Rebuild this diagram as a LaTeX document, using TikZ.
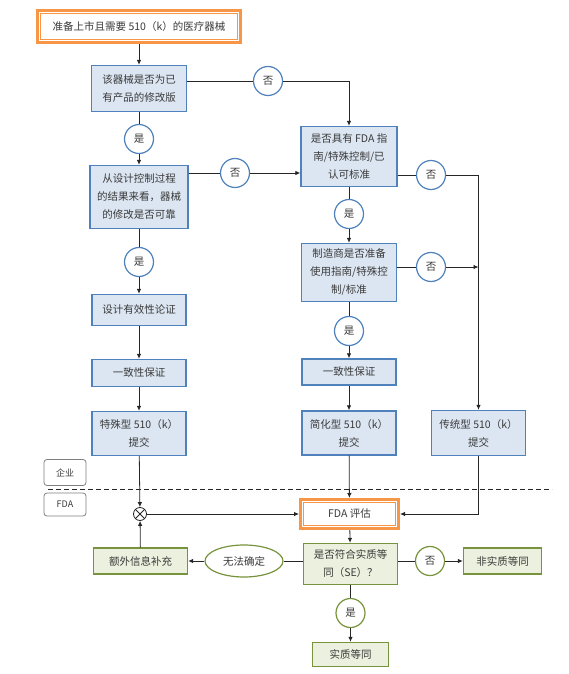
\documentclass[tikz,border=0pt]{standalone}
\usepackage{fontspec}
\setmainfont{Noto Sans CJK SC}
\usetikzlibrary{arrows.meta,shapes.geometric,calc}
\definecolor{bluec}{HTML}{4F81BD}
\definecolor{bluef}{HTML}{DCE6F2}
\definecolor{greenc}{HTML}{77933C}
\definecolor{greenf}{HTML}{EBF1DE}
\definecolor{orangec}{HTML}{F79646}
\definecolor{txt}{HTML}{3A3A3A}
\definecolor{linec}{HTML}{262626}
\definecolor{grayc}{HTML}{7F7F7F}
\begin{document}
\begin{tikzpicture}[x=1pt,y=-1pt,
  every node/.style={font=\fontsize{10.5}{18}\selectfont, text=txt, align=center, inner sep=0pt},
  bbox/.style={draw=bluec, fill=bluef, line width=1.4pt},
  gbox/.style={draw=greenc, fill=greenf, line width=1.4pt},
  obox/.style={draw=orangec, fill=white, line width=3pt},
  bcirc/.style={circle, draw=bluec, line width=1.2pt, fill=white, minimum size=29pt},
  gcirc/.style={circle, draw=greenc, line width=1.2pt, fill=white, minimum size=29pt},
  lbl/.style={draw=grayc, rounded corners=3pt, line width=0.8pt, fill=white, font=\fontsize{9}{11}\selectfont},
  ln/.style={line width=0.8pt, draw=linec},
  arr/.style={ln, -{Latex[length=5pt,width=4.5pt]}}]
\useasboundingbox (0,0) rectangle (568,674);

% top
\node[obox, minimum width=203pt, minimum height=32pt] (top) at (139,26.5) {准备上市且需要 510（k）的医疗器械};
\draw[orangec, line width=0.8pt] ([xshift=4.5pt,yshift=-4.5pt]top.north west) rectangle ([xshift=-4.5pt,yshift=4.5pt]top.south east);

% left column
\node[bbox, minimum width=95pt, minimum height=46pt] (A) at (139,88.5) {该器械是否为已\\有产品的修改版};
\node[bcirc] (y1) at (139,139) {是};
\node[bbox, minimum width=98pt, minimum height=63pt] (C) at (139,197) {从设计控制过程\\的结果来看，器械\\的修改是否可靠};
\node[bcirc] (y4) at (139,262) {是};
\node[bbox, minimum width=94pt, minimum height=31pt] (V) at (139,310) {设计有效性论证};
\node[bbox, minimum width=94pt, minimum height=27pt] (L1) at (139,373) {一致性保证};
\node[bbox, minimum width=94pt, minimum height=44pt] (S1) at (139,433.5) {特殊型 510（k）\\提交};

% middle column
\node[bcirc] (n1) at (268,81) {否};
\node[bbox, minimum width=96pt, minimum height=60pt] (B) at (349,156.5) {是否具有 FDA 指\\南/特殊控制/已\\认可标准};
\node[bcirc] (n2) at (235,173) {否};
\node[bcirc] (y2) at (349,214) {是};
\node[bbox, minimum width=95pt, minimum height=58pt] (D) at (349,272.5) {制造商是否准备\\使用指南/特殊控\\制/标准};
\node[bcirc] (y3) at (349,331) {是};
\node[bbox, minimum width=94pt, minimum height=26pt] (M1) at (349,372) {一致性保证};
\node[bbox, minimum width=94pt, minimum height=44pt] (S2) at (349,433) {简化型 510（k）\\提交};

% right column
\node[bcirc] (n3) at (431,175) {否};
\node[bcirc] (n4) at (431,267) {否};
\node[bbox, minimum width=94pt, minimum height=45pt] (T) at (478.5,433) {传统型 510（k）\\提交};

% labels and separator
\draw[ln, dashed, dash pattern=on 5pt off 3pt] (48,489) -- (552,489);
\node[lbl, minimum width=42pt, minimum height=26pt] (qy) at (65,472.5) {企业};
\node[lbl, minimum width=42pt, minimum height=23pt] (fda) at (65,504.5) {FDA};

% FDA part
\node[circle, draw=linec, line width=0.8pt, fill=white, minimum size=13pt] (X) at (140,514) {};
\draw[ln] (X.north west) -- (X.south east);
\draw[ln] (X.north east) -- (X.south west);
\node[obox, minimum width=98pt, minimum height=29pt] (F) at (349.5,514) {FDA 评估};
\draw[orangec, line width=0.8pt] ([xshift=4.5pt,yshift=-4.5pt]F.north west) rectangle ([xshift=-4.5pt,yshift=4.5pt]F.south east);
\node[gbox, minimum width=94pt, minimum height=41pt] (Q) at (350.5,564) {是否符合实质等\\同（SE）？};
\node[gbox, minimum width=94pt, minimum height=26pt] (E) at (140.5,561) {额外信息补充};
\node[ellipse, draw=greenc, line width=1.2pt, fill=white, minimum width=78pt, minimum height=32pt] (U) at (244,561) {无法确定};
\node[gcirc] (n5) at (430,561) {否};
\node[gbox, minimum width=78pt, minimum height=26pt] (NE) at (502.5,561) {非实质等同};
\node[gcirc] (y5) at (350.5,613) {是};
\node[gbox, minimum width=76pt, minimum height=24pt] (SE) at (350.5,654.5) {实质等同};

% connectors
\draw[arr] (top) -- (A);
\draw[ln] (A) -- (y1);
\draw[arr] (y1) -- (C);
\draw[ln] (C) -- (y4);
\draw[arr] (y4) -- (V);
\draw[arr] (V) -- (L1);
\draw[arr] (L1) -- (S1);
\draw[arr] (S1) -- (X);
\draw[arr] (X) -- (F);
\draw[arr] (E) -- (X);

\draw[ln] (A.east |- n1) -- (n1);
\draw[arr] (n1) -| (B);
\draw[ln] (C.east |- n2) -- (n2);
\draw[arr] (n2) -- (B.west |- n2);
\draw[ln] (B) -- (y2);
\draw[arr] (y2) -- (D);
\draw[ln] (D) -- (y3);
\draw[arr] (y3) -- (M1);
\draw[arr] (M1) -- (S2);
\draw[arr] (S2) -- (F);

\draw[ln] (B.east |- n3) -- (n3);
\draw[arr] (n3) -| (T);
\draw[ln] (D.east |- n4) -- (n4);
\draw[arr] (n4) -- (n4 -| T);
\draw[arr] (T) |- (F);

\draw[arr] (F) -- (Q);
\draw[ln] (Q.west |- U) -- (U);
\draw[arr] (U) -- (E);
\draw[ln] (Q.east |- n5) -- (n5);
\draw[arr] (n5) -- (NE);
\draw[ln] (Q) -- (y5);
\draw[arr] (y5) -- (SE);
\end{tikzpicture}
\end{document}
